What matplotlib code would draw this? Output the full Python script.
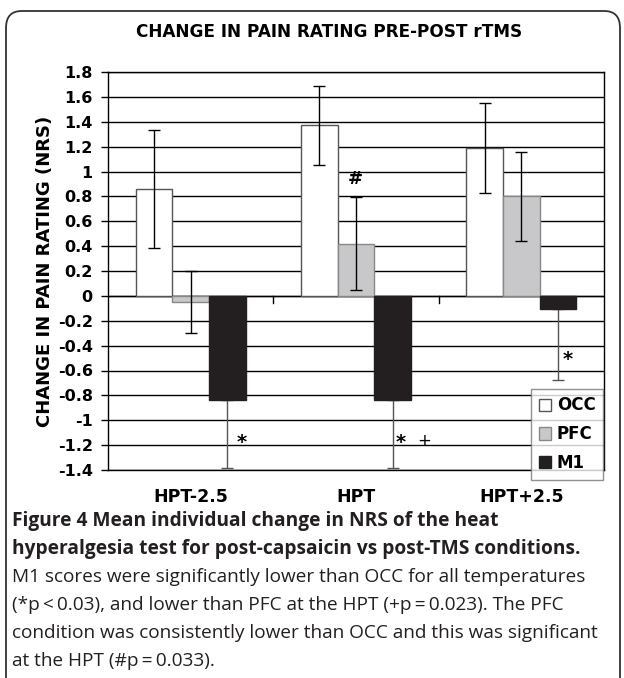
import numpy as np
import matplotlib.pyplot as plt
from matplotlib.patches import FancyBboxPatch

# data
categories = ['HPT-2.5', 'HPT', 'HPT+2.5']
groups = ['OCC', 'PFC', 'M1']
occ = [0.86, 1.37, 1.19]
pfc = [-0.05, 0.42, 0.80]
m1 = [-0.84, -0.84, -0.107]
occ_err = [0.475, 0.315, 0.36]
pfc_err = [0.25, 0.375, 0.36]
m1_err = [0.54, 0.54, 0.57]
yticks = np.round(np.arange(-1.4, 1.81, 0.2), 1)

W, H = 624, 678
fig = plt.figure(figsize=(W / 100, H / 100), dpi=100)

# rounded frame around everything
frame = FancyBboxPatch((6 / W, -0.05), 614 / W, (H - 11) / H + 0.05,
                       boxstyle="round,pad=0,rounding_size=0.025",
                       transform=fig.transFigure, fc='none', ec='#333333',
                       lw=1.3, clip_on=False)
fig.patches.append(frame)

ax = fig.add_axes([108 / W, 1 - 470 / H, 496 / W, 398 / H])

x = np.arange(len(categories))
bw = 0.222
cols = ['white', '#c8c8ca', '#231f20']
edges = ['#555555', '#888888', '#231f20']
vals = [occ, pfc, m1]

for i, (v, c, e, name) in enumerate(zip(vals, cols, edges, groups)):
    ax.bar(x + (i - 1) * bw, v, bw, color=c, edgecolor=e, linewidth=1.0,
           label=name, zorder=3)

# error bars (M1 only shown downward)
ax.errorbar(x - bw, occ, yerr=occ_err, fmt='none', ecolor='black',
            elinewidth=1, capsize=4, capthick=1, zorder=4)
ax.errorbar(x, pfc, yerr=pfc_err, fmt='none', ecolor='black',
            elinewidth=1, capsize=4, capthick=1, zorder=4)
ax.errorbar(x + bw, m1, yerr=[m1_err, np.zeros(3)], fmt='none',
            ecolor='#555555', elinewidth=1, capsize=4, capthick=1, zorder=2)

# significance marks
ax.text(0.997, 0.94, '#', ha='center', va='center', fontsize=13,
        fontweight='bold', zorder=5)
ax.text(0.31, -1.18, '*', ha='center', va='center', fontsize=14,
        fontweight='bold', zorder=5)
ax.text(1.27, -1.18, '*', ha='center', va='center', fontsize=14,
        fontweight='bold', zorder=5)
ax.text(1.41, -1.17, '+', ha='center', va='center', fontsize=12, zorder=5)
ax.text(2.28, -0.51, '*', ha='center', va='center', fontsize=14,
        fontweight='bold', zorder=5)

ax.set_xlim(-0.5, 2.5)
ax.set_ylim(-1.4, 1.8)
ax.set_yticks(yticks)
ax.set_yticklabels(['0' if t == 0 else ('%g' % t) for t in yticks],
                   fontsize=11.5, fontweight='bold')
ax.yaxis.grid(True, color='black', lw=1, zorder=0)
ax.tick_params(axis='y', length=5, width=1, direction='out', pad=6)
for s in ax.spines.values():
    s.set_color('black')
    s.set_linewidth(1)

# category axis drawn at zero
ax.axhline(0, color='black', lw=1, zorder=1)
ax.set_xticks([])
for b in [0.5, 1.5]:
    ax.plot([b, b], [0, -0.06], color='black', lw=1, zorder=1)
for i, c in enumerate(categories):
    ax.text(i, -1.615, c, ha='center', va='center', fontsize=12.5,
            fontweight='bold')

ax.set_ylabel('CHANGE IN PAIN RATING (NRS)', fontsize=13, fontweight='bold',
              labelpad=3)

fig.text(329 / W, 1 - 32 / H, 'CHANGE IN PAIN RATING PRE-POST rTMS',
         ha='center', va='center', fontsize=12.2, fontweight='bold')

leg = ax.legend(loc='upper left', bbox_to_anchor=(531 / W, 1 - 389 / H),
                bbox_transform=fig.transFigure, fontsize=12, frameon=True,
                fancybox=False, edgecolor='#777777', handlelength=0.75,
                handleheight=0.75, labelspacing=0.65, borderpad=0.45,
                handletextpad=0.35, borderaxespad=0)
for t in leg.get_texts():
    t.set_fontweight('bold')
leg.get_frame().set_linewidth(1)

cap = 'Open Sans'
fig.text(12 / W, 1 - 521 / H,
         'Figure 4 Mean individual change in NRS of the heat',
         ha='left', va='center', fontsize=13.8, fontweight='bold',
         family=cap, color='#231f20')
fig.text(12 / W, 1 - 549 / H,
         'hyperalgesia test for post-capsaicin vs post-TMS conditions.',
         ha='left', va='center', fontsize=13.8, fontweight='bold',
         family=cap, color='#231f20')
lines = ['M1 scores were significantly lower than OCC for all temperatures',
         '(*p\u2009<\u20090.03), and lower than PFC at the HPT (+p\u2009=\u20090.023). The PFC',
         'condition was consistently lower than OCC and this was significant',
         'at the HPT (#p\u2009=\u20090.033).']
for k, ln in enumerate(lines):
    fig.text(12 / W, 1 - (577 + 28 * k) / H, ln, ha='left', va='center',
             fontsize=13.7, family=[cap, 'DejaVu Sans'], color='#231f20')

fig.savefig('out.png', dpi=100)
